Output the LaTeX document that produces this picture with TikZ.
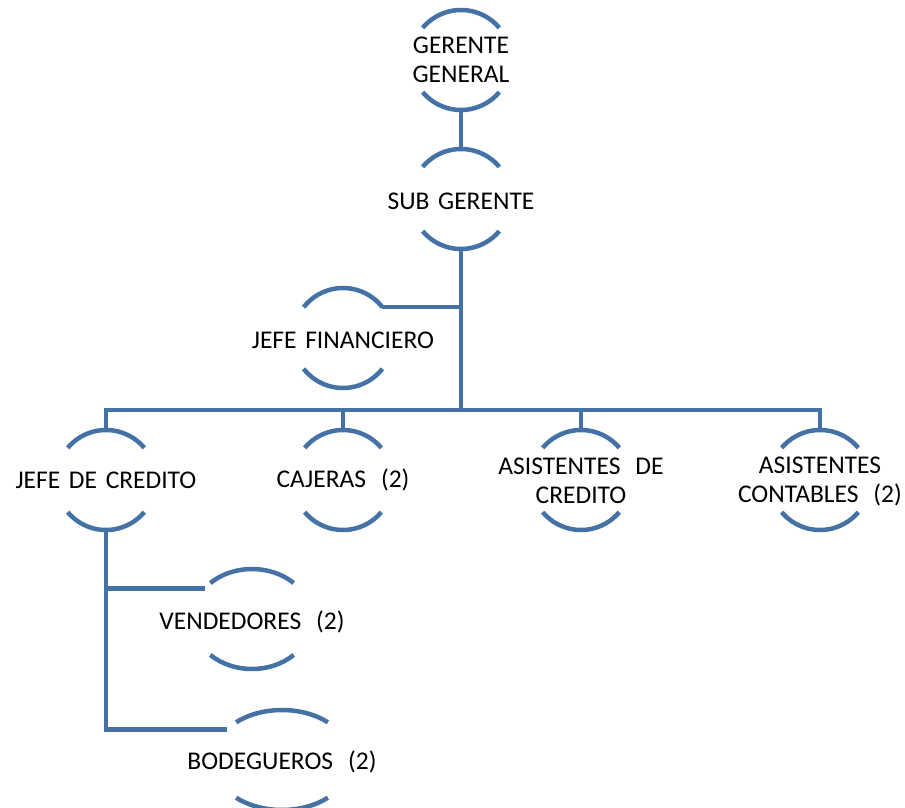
\documentclass[tikz,border=0pt]{standalone}
\usepackage{fontspec}
\setmainfont{Carlito}[WordSpace=1.5]
\usetikzlibrary{shapes.geometric}
\definecolor{azulorg}{RGB}{68,114,166}
\tikzset{
  linea/.style={line width=4.5pt, draw=azulorg},
  anillo/.style={ellipse, inner sep=0pt, outer sep=0pt, minimum height=100pt, minimum width=#1},
  anillo/.default=100pt,
  cargo/.style={font=\fontsize{25.5}{29}\selectfont, align=center, inner sep=0pt}
}
\newcommand{\dosesp}{\hspace{15pt}}
\newcommand{\arcos}[3]{%
  \draw[linea] ([shift={(#3:#2 and 50pt)}]#1.center) arc[start angle=#3, end angle=180-#3, x radius=#2, y radius=50pt];
  \draw[linea] ([shift={(180+#3:#2 and 50pt)}]#1.center) arc[start angle=180+#3, end angle=360-#3, x radius=#2, y radius=50pt];
}
\begin{document}
\begin{tikzpicture}[x=1pt,y=1pt]
            \useasboundingbox (0,0) rectangle (905,807);

            \node[anillo] (GG) at (461, 747) {};
            \node[anillo] (SG) at (461, 608) {};
            \node[anillo] (JF) at (343, 469) {};
            \node[anillo] (JDC) at (106, 327) {};
            \node[anillo] (CAJ) at (343, 327) {};
            \node[anillo] (ADC) at (581, 327) {};
            \node[anillo] (AC) at (820, 327) {};
            \node[anillo=120pt] (VEN) at (252, 188) {};
            \node[anillo=140pt] (BOD) at (282, 47) {};
            \coordinate (bus) at (461, 397);

            \draw[linea] (GG.south) to (SG.north);
            \draw[linea] (SG.south) to (bus);
            \draw[linea] (JF.38) to (JF.38 -| SG.south);
            \draw[linea] (JDC.north) -- (JDC.north |- bus) -- (AC.north |- bus) -- (AC.north);
            \draw[linea] (CAJ.north) to (CAJ.north |- bus);
            \draw[linea] (ADC.north) to (ADC.north |- bus);
            \draw[linea] (JDC.south) -- (JDC.south |- BOD.151) -- (BOD.151);
            \draw[linea] (JDC.south |- VEN.147) to (VEN.147);

            \arcos{GG}{50pt}{40}
            \arcos{SG}{50pt}{40}
            \arcos{JF}{50pt}{38}
            \arcos{JDC}{50pt}{40}
            \arcos{CAJ}{50pt}{40}
            \arcos{ADC}{50pt}{40}
            \arcos{AC}{50pt}{40}
            \arcos{VEN}{60pt}{46}
            \arcos{BOD}{70pt}{49}

            \node[cargo] (GGt) at (GG) {GERENTE\\GENERAL};
            \node[cargo] (SGt) at ([yshift=-2pt]SG.center) {SUB GERENTE};
            \node[cargo] (JFt) at ([yshift=-2pt]JF.center) {JEFE FINANCIERO};
            \node[cargo] (JDCt) at (JDC) {JEFE DE CREDITO};
            \node[cargo] (CAJt) at (CAJ) {CAJERAS\dosesp(2)};
            \node[cargo] (ADCt) at ([yshift=-1pt]ADC.center) {ASISTENTES\dosesp DE\\CREDITO};
            \node[cargo] (ACt) at ([yshift=-1pt]AC.center) {ASISTENTES\\CONTABLES\dosesp(2)};
            \node[cargo] (VENt) at ([yshift=-3pt]VEN.center) {VENDEDORES\dosesp(2)};
            \node[cargo] (BODt) at ([yshift=-2pt]BOD.center) {BODEGUEROS\dosesp(2)};
        \end{tikzpicture}
\end{document}
